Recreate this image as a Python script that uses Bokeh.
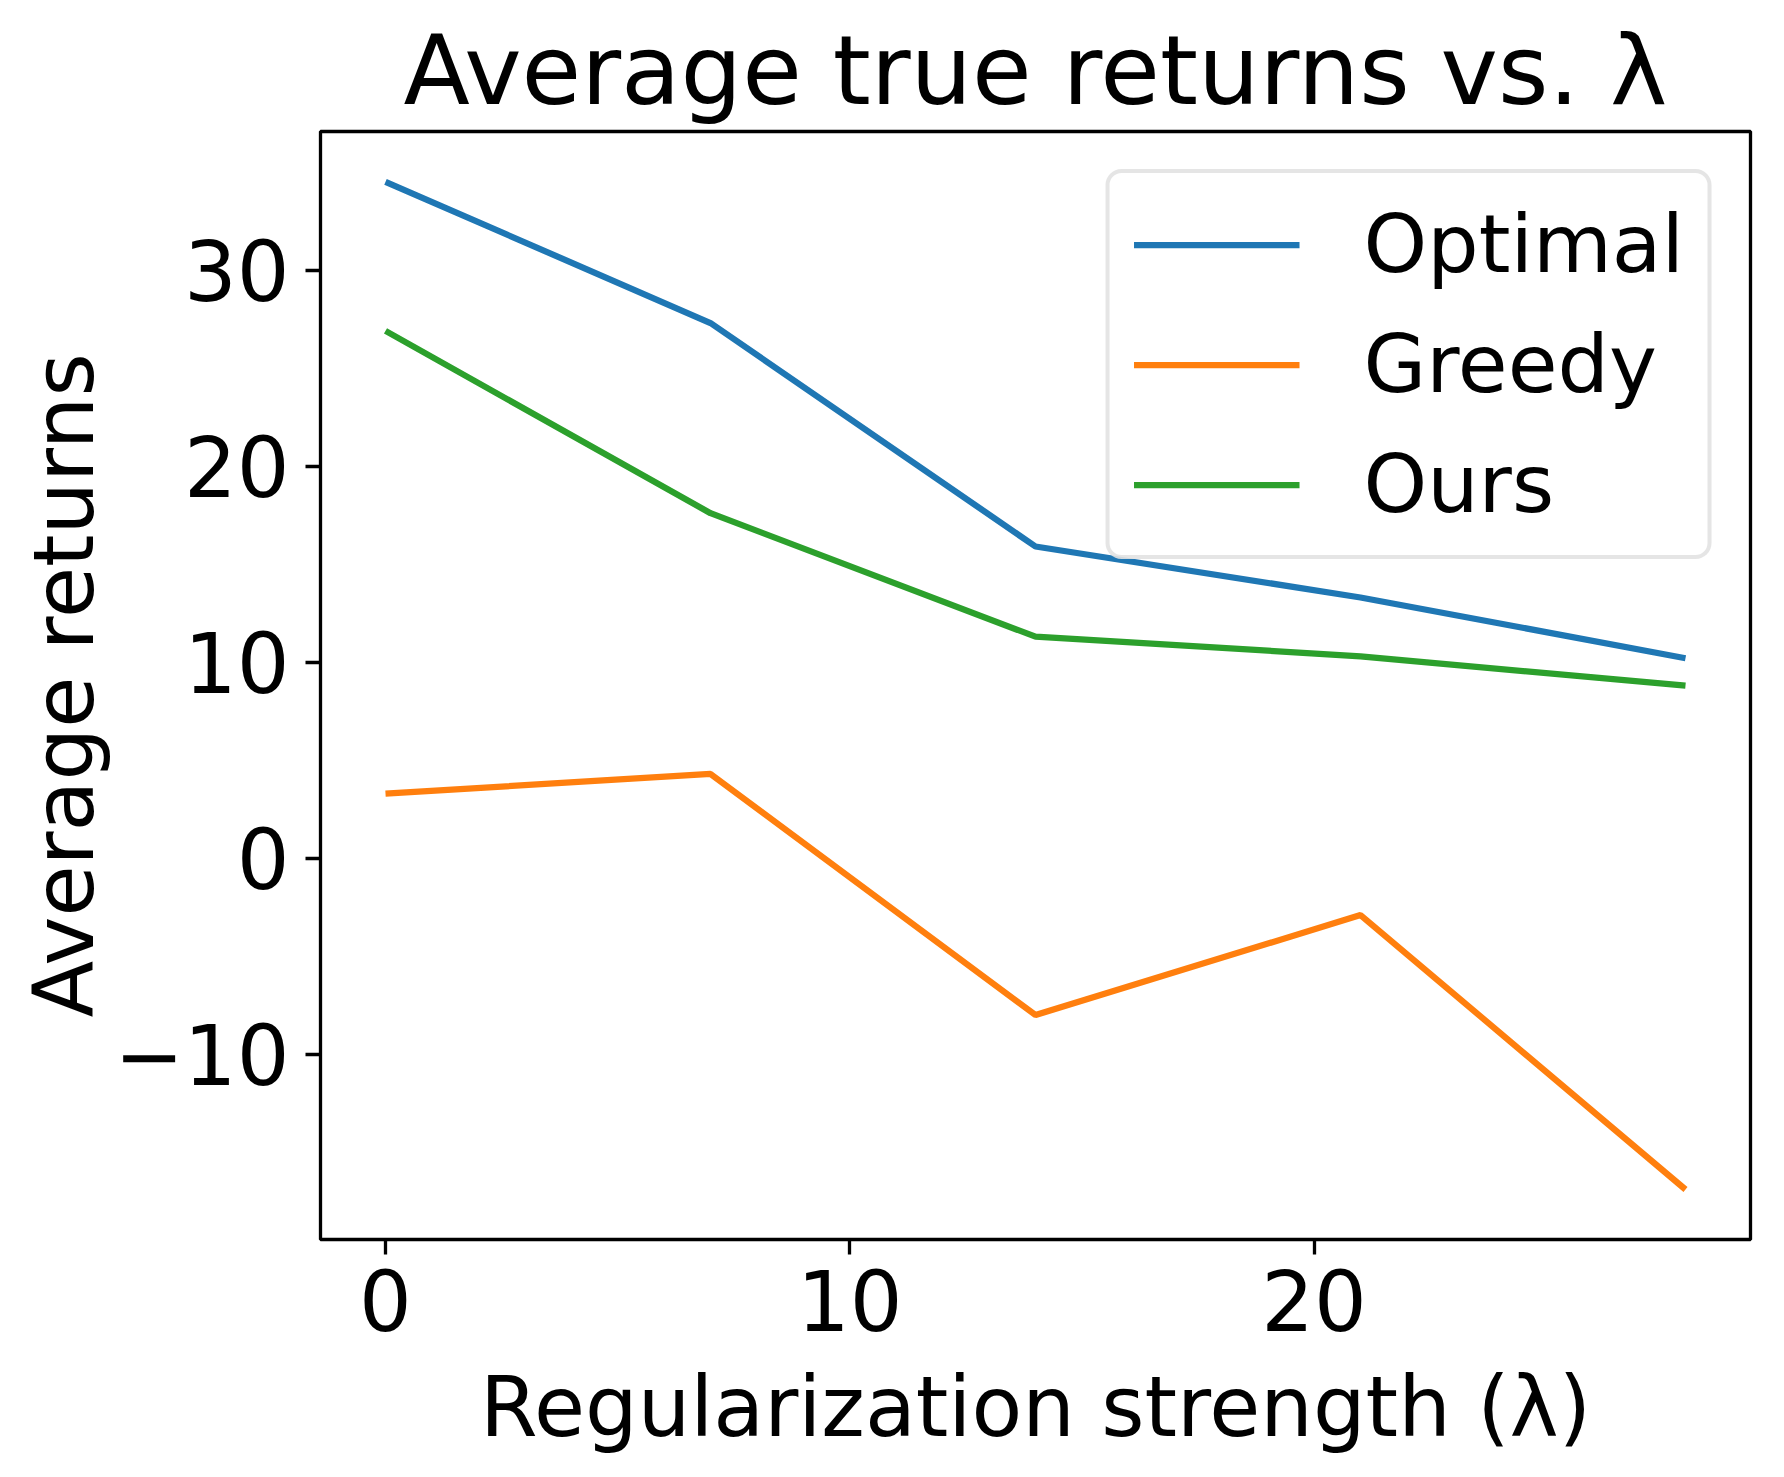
from bokeh.plotting import figure
from bokeh.models import Range1d, FixedTicker, Title
from bokeh.embed import file_html
from bokeh.resources import INLINE

lambdas = [0, 7, 14, 21, 28]
optimal = [34.5, 27.3, 15.9, 13.3, 10.2]
greedy = [3.3, 4.3, -8.0, -2.9, -16.9]
ours = [26.9, 17.6, 11.3, 10.3, 8.8]
x_ticks = [0, 10, 20]
y_ticks = [-10, 0, 10, 20, 30]
title_text = "Average true returns vs. λ"

FONT = "DejaVu Sans"

p = figure(width=1768, height=1460, output_backend="svg", toolbar_location=None,
           x_range=Range1d(-1.4, 29.4), y_range=Range1d(-19.45, 37.07),
           min_border_left=320, min_border_right=18, min_border_top=131,
           min_border_bottom=221)

p.title = Title(text=title_text, text_font=FONT, text_font_size="97px",
                text_font_style="normal", align="center", standoff=10,
                text_color="#000000")

colors = ["#1f77b4", "#ff7f0e", "#2ca02c"]
for ys, c, lab in [(optimal, colors[0], "Optimal"), (greedy, colors[1], "Greedy"), (ours, colors[2], "Ours")]:
    p.line(lambdas, ys, line_color=c, line_width=6.25, legend_label=lab)

p.xgrid.grid_line_color = None
p.ygrid.grid_line_color = None
p.outline_line_color = "black"
p.outline_line_width = 3.3
p.outline_line_alpha = 1.0

p.xaxis.ticker = FixedTicker(ticks=x_ticks)
p.yaxis.ticker = FixedTicker(ticks=y_ticks)
p.yaxis.major_label_overrides = {t: (("\u2212" + str(abs(t))) if t < 0 else str(t)) for t in y_ticks}

for ax in [p.xaxis[0], p.yaxis[0]]:
    ax.axis_line_color = None
    ax.major_tick_out = 15
    ax.major_tick_in = 0
    ax.major_tick_line_width = 3.3
    ax.major_tick_line_color = "black"
    ax.minor_tick_line_color = None
    ax.major_label_text_font = FONT
    ax.major_label_text_font_size = "83px"
    ax.major_label_text_color = "black"
    ax.axis_label_text_font = FONT
    ax.axis_label_text_font_size = "83px"
    ax.axis_label_text_font_style = "normal"
    ax.axis_label_text_color = "black"

p.xaxis.axis_label = "Regularization strength (λ)"
p.yaxis.axis_label = "Average returns"
p.xaxis.major_label_standoff = 14
p.yaxis.major_label_standoff = 16
p.xaxis.axis_label_standoff = 25
p.yaxis.axis_label_standoff = -2

lg = p.legend[0]
lg.location = "top_right"
lg.margin = 38
lg.padding = 24
lg.spacing = 26
lg.glyph_width = 166
lg.glyph_height = 83
lg.label_height = 83
lg.label_standoff = 64
lg.label_text_font = FONT
lg.label_text_font_size = "81px"
lg.label_text_color = "black"
lg.border_line_color = "#cccccc"
lg.border_line_width = 4
lg.background_fill_color = "white"
lg.background_fill_alpha = 0.8
if "border_radius" in lg.properties():
    lg.border_radius = 16

open("out.html", "w").write(file_html(p, INLINE))
